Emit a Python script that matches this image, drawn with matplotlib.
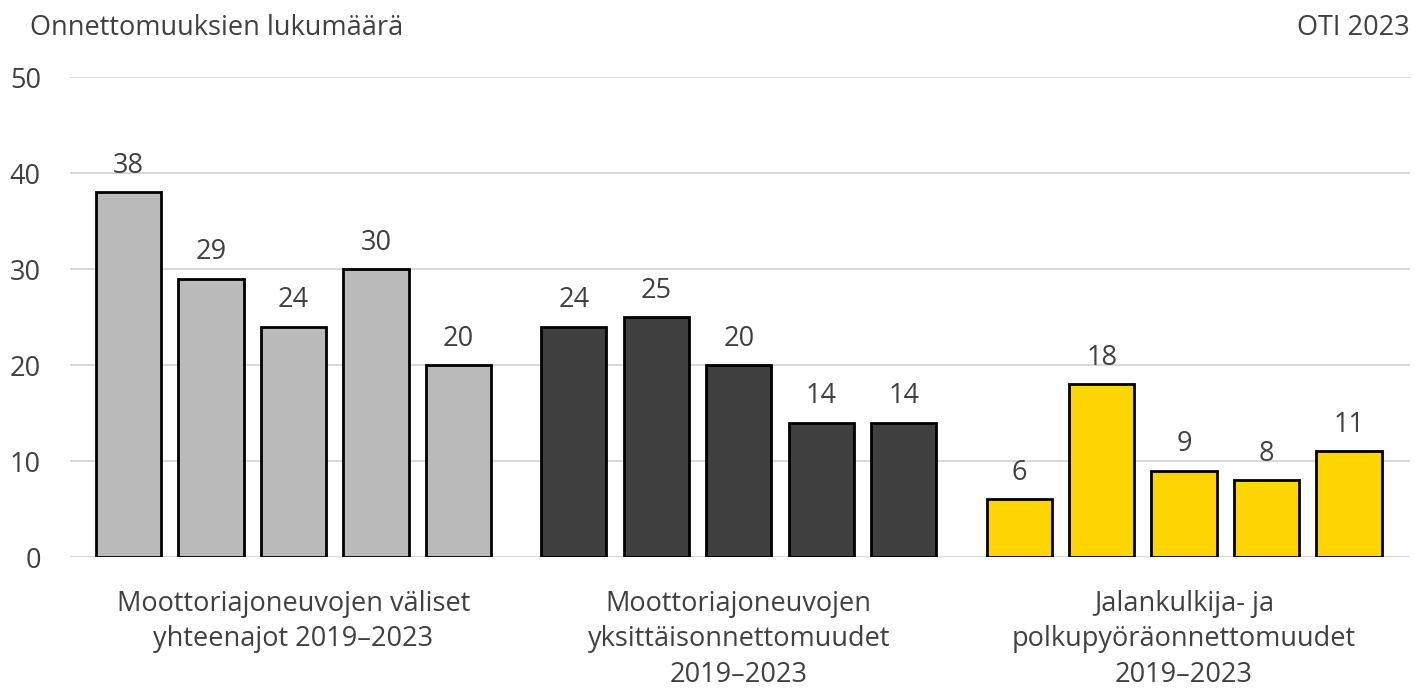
import numpy as np
import matplotlib
matplotlib.use('Agg')
import matplotlib.pyplot as plt

plt.rcParams['font.family'] = ['Open Sans', 'DejaVu Sans']

groups = ['Moottoriajoneuvojen väliset\nyhteenajot 2019–2023',
          'Moottoriajoneuvojen\nyksittäisonnettomuudet\n2019–2023',
          'Jalankulkija- ja\npolkupyöräonnettomuudet\n2019–2023']
collisions = [38, 29, 24, 30, 20]
single = [24, 25, 20, 14, 14]
pedestrian = [6, 18, 9, 8, 11]
colors = ['#bababa', '#404040', '#ffd500']
yticks = [0, 10, 20, 30, 40, 50]

text_col = '#404040'
fs = 19.5
fig = plt.figure(figsize=(14.14, 6.88), dpi=100)
ax = fig.add_axes([70 / 1414, 1 - 557 / 688, 1340 / 1414, 480 / 688])

group_gap = 5.4
for g, vals in enumerate([collisions, single, pedestrian]):
    x = np.arange(len(vals)) + g * group_gap
    ax.bar(x, vals, width=0.79, color=colors[g], edgecolor='black', linewidth=2, zorder=3)
    for xi, v in zip(x, vals):
        ax.text(xi, v + 1.3, str(v), ha='center', va='bottom', fontsize=fs, color=text_col)

ax.set_xlim(-0.71, 15.54)
ax.set_ylim(0, 50)
ax.set_yticks(yticks)
ax.yaxis.grid(True, color='#d6d6d6', linewidth=1.3, zorder=0)
ax.set_axisbelow(True)
for s in ax.spines.values():
    s.set_visible(False)
ax.tick_params(axis='y', length=0, pad=21, labelsize=fs, labelcolor=text_col)
ax.set_xticks([2 + g * group_gap for g in range(3)])
ax.set_xticklabels(groups, fontsize=fs, color=text_col, linespacing=1.34)
ax.tick_params(axis='x', length=0, pad=24)

fig.text(30 / 1414, 1 - 28 / 688, 'Onnettomuuksien lukumäärä', fontsize=fs, color=text_col, va='center')
fig.text(1410 / 1414, 1 - 28 / 688, 'OTI 2023', fontsize=fs, color=text_col, va='center', ha='right')

fig.savefig('out.png', dpi=100)
